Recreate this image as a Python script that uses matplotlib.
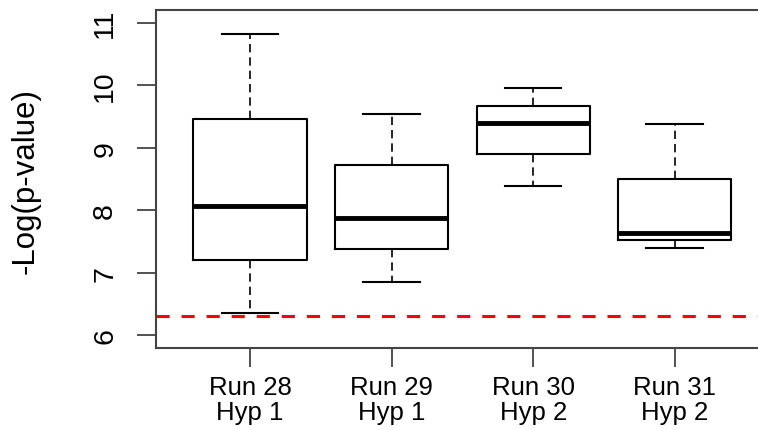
import matplotlib
matplotlib.use("Agg")
import matplotlib.pyplot as plt

labels = ["Run 28\nHyp 1", "Run 29\nHyp 1", "Run 30\nHyp 2", "Run 31\nHyp 2"]
whislo = [6.35, 6.85, 8.38, 7.40]
q1 = [7.21, 7.38, 8.90, 7.52]
med = [8.06, 7.88, 9.39, 7.64]
q3 = [9.45, 8.72, 9.67, 8.49]
whishi = [10.81, 9.54, 9.95, 9.37]
threshold = 6.30
yticks = [6, 7, 8, 9, 10, 11]

plt.rcParams['font.family'] = ['Liberation Sans', 'DejaVu Sans']

fig = plt.figure(figsize=(7.58, 4.31), dpi=100)
ax = fig.add_axes([155.7 / 758, 1 - 348.7 / 431, (769 - 155.7) / 758, (348.7 - 11) / 431])

stats = []
for i in range(len(labels)):
    stats.append(dict(label=labels[i], whislo=whislo[i], q1=q1[i], med=med[i],
                      q3=q3[i], whishi=whishi[i], fliers=[]))

positions = list(range(1, len(labels) + 1))
ax.bxp(stats, positions=positions, widths=0.8, capwidths=0.4, showfliers=False,
       boxprops=dict(color='black', linewidth=1.5),
       medianprops=dict(color='black', linewidth=3.5, solid_capstyle='butt'),
       whiskerprops=dict(color='black', linewidth=1.2, linestyle=(0, (5, 3))),
       capprops=dict(color='black', linewidth=1.5))

ax.axhline(threshold, color='#ff0000', linewidth=2.2, linestyle=(0, (4.3, 3.9)))

ax.set_xlim(0.334, 4.666)
ax.set_ylim(5.8, 11.2)
ax.set_yticks(yticks)
ax.set_yticklabels([str(t) for t in yticks], rotation=90, va='center', fontsize=20.5)
ax.set_xticks(positions)
ax.set_xticklabels(labels, fontsize=18.5, linespacing=1.04)
ax.tick_params(axis='y', pad=13.5)
ax.tick_params(axis='x', pad=6)

fig.text(26 / 758, 1 - 181.5 / 431, "-Log(p-value)", rotation=90, ha='center', va='center',
         fontsize=22.5)

for s in ax.spines.values():
    s.set_color('#444444')
    s.set_linewidth(1.5)
ax.tick_params(axis='both', length=13.5, width=1.3, color='#444444')

fig.savefig("out.png", dpi=100)
